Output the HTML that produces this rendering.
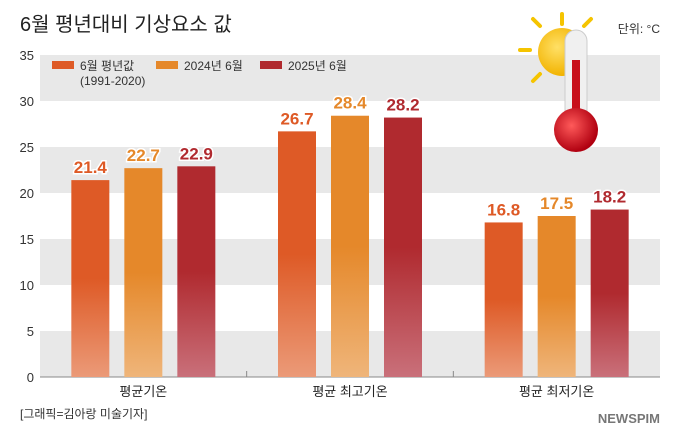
<!DOCTYPE html>
<html><head><meta charset="utf-8">
<style>
body{margin:0;background:#fff;font-family:"Liberation Sans","Noto Sans CJK KR",sans-serif;}
#wrap{position:relative;width:680px;height:442px;overflow:hidden;}
</style></head>
<body>
<div id="wrap">
<svg id="chart" width="680" height="442" xmlns="http://www.w3.org/2000/svg">
<defs>
<linearGradient id="g0" x1="0" y1="0" x2="0" y2="1"><stop offset="0.5" stop-color="#de5a26"/><stop offset="1" stop-color="#eb9a78"/></linearGradient>
<linearGradient id="g1" x1="0" y1="0" x2="0" y2="1"><stop offset="0.5" stop-color="#e5882a"/><stop offset="1" stop-color="#efb57a"/></linearGradient>
<linearGradient id="g2" x1="0" y1="0" x2="0" y2="1"><stop offset="0.5" stop-color="#b02a2f"/><stop offset="1" stop-color="#c9707a"/></linearGradient>
<radialGradient id="sun" cx="0.4" cy="0.4" r="0.6"><stop offset="0" stop-color="#ffe066"/><stop offset="1" stop-color="#f2b300"/></radialGradient>
<radialGradient id="bulb" cx="0.4" cy="0.4" r="0.6"><stop offset="0" stop-color="#ff5a5a"/><stop offset="1" stop-color="#b00010"/></radialGradient>
</defs>
<text x="20" y="31" font-size="20" fill="#222">6월 평년대비 기상요소 값</text>
<text x="660" y="33" font-size="12" fill="#333" text-anchor="end">단위: °C</text>
<g id="bands"></g>
<g id="yticks"></g>
<g id="bars"></g>
<g id="xlabels"></g>
<g>
<g stroke="#f5c400" stroke-width="4" stroke-linecap="round">
<line x1="562" y1="14" x2="562" y2="24"/><line x1="530" y1="50" x2="520" y2="50"/><line x1="540" y1="26" x2="533" y2="19"/><line x1="540" y1="74" x2="533" y2="81"/><line x1="584" y1="26" x2="591" y2="19"/>
</g>
<circle cx="562" cy="52" r="24" fill="url(#sun)"/>
<rect x="565" y="30" width="22" height="100" rx="11" fill="#f0f0f0" stroke="#ccc"/>
<rect x="572" y="60" width="8" height="70" fill="#c8101c"/>
<circle cx="576" cy="130" r="22" fill="url(#bulb)"/>
</g>
<g>
<rect x="51" y="57" width="54" height="9" fill="none"/>
<rect x="52" y="61" width="22" height="8" fill="#de5a26"/>
<text x="80" y="70" font-size="12" fill="#333">6월 평년값</text>
<text x="80" y="85" font-size="12" fill="#333">(1991-2020)</text>
<rect x="156" y="61" width="22" height="8" fill="#e5882a"/>
<text x="184" y="70" font-size="12" fill="#333">2024년 6월</text>
<rect x="260" y="61" width="22" height="8" fill="#b02a2f"/>
<text x="288" y="70" font-size="12" fill="#333">2025년 6월</text>
</g>
<text x="20" y="418" font-size="12" fill="#333">[그래픽=김아랑 미술기자]</text>
<text x="660" y="423" font-size="13" font-weight="bold" fill="#555" text-anchor="end" opacity="0.8">NEWSPIM</text>
</svg>
</div>
<script>
const categories=["평균기온","평균 최고기온","평균 최저기온"];
const normalVals=[21.4,26.7,16.8];
const y2024Vals=[22.7,28.4,17.5];
const y2025Vals=[22.9,28.2,18.2];
const yTicks=[0,5,10,15,20,25,30,35];
const NS="http://www.w3.org/2000/svg";
const X0=40,X1=660,Y0=377,Y35=55;
const yS=v=>Y0-(v/35)*(Y0-Y35);
const gw=(X1-X0)/categories.length;
function mk(t,a,p){const e=document.createElementNS(NS,t);for(const k in a)e.setAttribute(k,a[k]);p.appendChild(e);return e;}
const bands=document.getElementById('bands'),yt=document.getElementById('yticks'),bars=document.getElementById('bars'),xl=document.getElementById('xlabels');
for(let i=0;i<yTicks.length-1;i+=2){
 const r=mk('rect',{x:X0,y:yS(yTicks[i+1]),width:X1-X0,height:yS(yTicks[i])-yS(yTicks[i+1]),fill:'#e8e8e8'},bands);
 
 
}
yTicks.forEach(v=>{
 const t=mk('text',{x:34,y:yS(v)+5,'font-size':13,fill:'#333','text-anchor':'end'},yt);
 t.textContent=v;
 
 
});
const ax=mk('line',{x1:X0,y1:Y0,x2:X1,y2:Y0,stroke:'#888'},yt);


const series=[normalVals,y2024Vals,y2025Vals];
const cols=['#de5a26','#e5882a','#b02a2f'];
const bw=38,gap=15;
categories.forEach((c,ci)=>{
 const gx=X0+ci*gw;
 if(ci>0){const tk=mk('line',{x1:gx,y1:Y0,x2:gx,y2:Y0-6,stroke:'#888'},yt);
  
  }
 const start=gx+gw/2-(3*bw+2*gap)/2;
 series.forEach((s,si)=>{
  const x=start+si*(bw+gap),y=yS(s[ci]);
  const b=mk('rect',{x:x,y:y,width:bw,height:Y0-y,fill:'url(#g'+si+')'},bars);
  
  
  const t=mk('text',{x:x+bw/2,y:y-7,'font-size':17,'font-weight':'bold',fill:cols[si],'text-anchor':'middle',stroke:'#fff','stroke-width':3,'paint-order':'stroke'},bars);
  t.textContent=s[ci].toFixed(1);
  
  
 });
 const l=mk('text',{x:gx+gw/2,y:396,'font-size':13,fill:'#222','text-anchor':'middle'},xl);
 l.textContent=c;
 
 
});
</script>
</body></html>
